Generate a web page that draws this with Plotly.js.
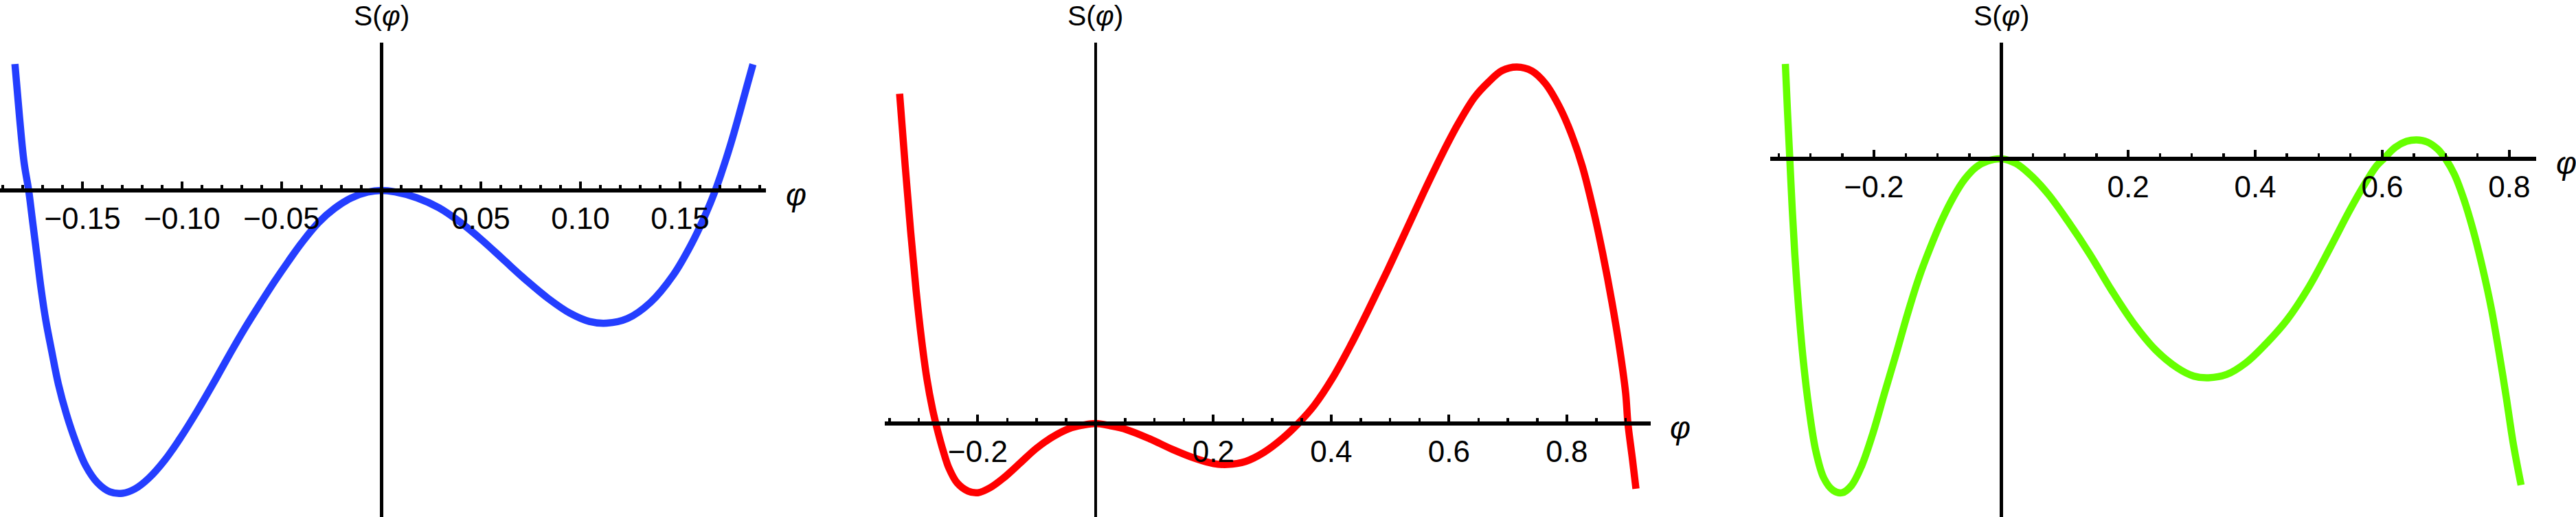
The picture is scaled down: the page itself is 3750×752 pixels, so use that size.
<!DOCTYPE html>
<html>
<head>
<meta charset="utf-8">
<script src="https://cdn.plot.ly/plotly-3.0.1.min.js"></script>
<style>
  html, body { margin: 0; padding: 0; background: #fff; }
  #gd { width: 3750px; height: 752px; }
</style>
</head>
<body>
<div id="gd"></div>
<script>
// panel 1 (blue)
let phi1 = [-0.1839, -0.1816, -0.1793, -0.1770, -0.1753, -0.1730, -0.1707, -0.1684, -0.1655, -0.1621,
  -0.1580, -0.1534, -0.1483, -0.1425, -0.1362, -0.1299, -0.1236, -0.1167, -0.1086, -0.1006,
  -0.0925, -0.0845, -0.0764, -0.0684, -0.0603, -0.0534, -0.0466, -0.0399, -0.0316, -0.0234,
  -0.0151, -0.0069, 0,
  0.0069, 0.0179, 0.0289, 0.0399, 0.0509, 0.0618, 0.0728, 0.0838, 0.0948, 0.1045,
  0.1132, 0.1236, 0.1351, 0.1466, 0.1557, 0.1626, 0.1677, 0.1730, 0.1764, 0.1800, 0.1833, 0.1866];
let s1 = [1.839, 1.067, 0.405, 0, -0.390, -0.919, -1.449, -1.890, -2.330, -2.817,
  -3.258, -3.655, -4.008, -4.251, -4.384, -4.405, -4.340, -4.185, -3.920, -3.589,
  -3.214, -2.817, -2.398, -2.000, -1.625, -1.316, -1.029, -0.760, -0.470, -0.260,
  -0.110, -0.025, 0,
  -0.022, -0.108, -0.252, -0.468, -0.731, -1.019, -1.307, -1.571, -1.787, -1.906,
  -1.930, -1.863, -1.630, -1.230, -0.780, -0.360, 0, 0.450, 0.770, 1.140, 1.490, 1.835];

// panel 2 (red)
let phi2 = [-0.3328, -0.3235, -0.3142, -0.3049, -0.2956, -0.2864, -0.2771, -0.2678, -0.2585, -0.2492,
  -0.2352, -0.2166, -0.1999, -0.1794, -0.1562, -0.1283, -0.1004, -0.0725, -0.0446, -0.0214, 0,
  0.0251, 0.0525, 0.0914, 0.1303, 0.1691, 0.2002, 0.2235, 0.2546, 0.2857, 0.3168,
  0.3440, 0.3712, 0.4023, 0.4335, 0.4645, 0.4956, 0.5268, 0.5578, 0.5889, 0.6161,
  0.6433, 0.6667, 0.6900, 0.7152, 0.7405, 0.7638, 0.7872, 0.8066, 0.8260, 0.8455,
  0.8610, 0.8766, 0.8902, 0.8999, 0.9038, 0.9116, 0.9174];
let s2 = [4.796, 3.765, 2.806, 1.942, 1.223, 0.647, 0.216, -0.120, -0.408, -0.647,
  -0.863, -0.983, -1.007, -0.935, -0.791, -0.576, -0.360, -0.192, -0.072, -0.024, 0,
  -0.034, -0.089, -0.221, -0.376, -0.508, -0.583, -0.596, -0.552, -0.420, -0.221,
  0, 0.264, 0.662, 1.147, 1.676, 2.228, 2.802, 3.376, 3.927, 4.368,
  4.744, 4.964, 5.132, 5.185, 5.128, 4.942, 4.611, 4.236, 3.751, 3.089,
  2.471, 1.765, 1.059, 0.441, 0, -0.530, -0.949];

// panel 3 (green)
let phi3 = [-0.3395, -0.3362, -0.3325, -0.3290, -0.3247, -0.3186, -0.3114, -0.3024, -0.2916, -0.2789,
  -0.2645, -0.2501, -0.2357, -0.2195, -0.2014, -0.1835, -0.1654, -0.1474, -0.1294, -0.1114,
  -0.0933, -0.0754, -0.0573, -0.0392, -0.0213, 0,
  0.0233, 0.0491, 0.0750, 0.1051, 0.1396, 0.1741, 0.2086, 0.2430, 0.2775, 0.3034,
  0.3266, 0.3551, 0.3852, 0.4154, 0.4499, 0.4844, 0.5188, 0.5481, 0.5697, 0.5914,
  0.6022, 0.6202, 0.6382, 0.6544, 0.6706, 0.6868, 0.6995, 0.7138, 0.7283, 0.7427,
  0.7571, 0.7716, 0.7841, 0.7949, 0.8057, 0.8185];
let s3 = [1.380, 0.700, 0, -0.673, -1.379, -2.174, -2.924, -3.630, -4.248, -4.645,
  -4.821, -4.857, -4.755, -4.468, -3.983, -3.409, -2.845, -2.262, -1.732, -1.291,
  -0.894, -0.563, -0.298, -0.121, -0.033, 0,
  -0.067, -0.259, -0.523, -0.906, -1.386, -1.914, -2.393, -2.777, -3.041, -3.161,
  -3.185, -3.137, -2.969, -2.705, -2.345, -1.866, -1.280, -0.761, -0.408, -0.099,
  0, 0.165, 0.254, 0.276, 0.245, 0.143, 0, -0.232, -0.585, -1.026,
  -1.556, -2.174, -2.835, -3.453, -4.115, -4.745];

let ticks1 = [-0.15, -0.1, -0.05, 0.05, 0.1, 0.15];
let labels1 = ['\u22120.15', '\u22120.10', '\u22120.05', '0.05', '0.10', '0.15'];
let ticks23 = [-0.2, 0.2, 0.4, 0.6, 0.8];
let labels23 = ['\u22120.2', '0.2', '0.4', '0.6', '0.8'];

let font = 'Liberation Sans, Arial, sans-serif';

function curve(x, y, color, xa, ya) {
  return {
    x: x, y: y, xaxis: xa, yaxis: ya,
    mode: 'lines',
    line: { color: color, width: 10.5, shape: 'spline', smoothing: 1 },
    hoverinfo: 'skip'
  };
}

function xax(domain, range, pos, vals, text, minorStep) {
  return {
    domain: domain, range: range, anchor: 'free', position: pos,
    showgrid: false, zeroline: false,
    showline: true, linecolor: 'black', linewidth: 6,
    tickmode: 'array', tickvals: vals, ticktext: text,
    ticks: 'inside', ticklen: 10, tickwidth: 4, tickcolor: 'black',
    minor: { tickmode: 'linear', tick0: 0, dtick: minorStep, ticks: 'inside', ticklen: 5, tickwidth: 3.5, tickcolor: 'black', showgrid: false },
    tickfont: { family: font, size: 44, color: 'black' },
    fixedrange: true
  };
}

function yax(range, pos) {
  return {
    domain: [0, 0.91755], range: range, anchor: 'free', position: pos,
    showgrid: false, zeroline: false,
    showline: true, linecolor: 'black', linewidth: 4.5,
    ticks: '', showticklabels: false,
    fixedrange: true
  };
}

function label(text, x, y, size) {
  return {
    text: text, xref: 'paper', yref: 'paper', x: x, y: y,
    xanchor: 'center', yanchor: 'middle', showarrow: false,
    font: { family: font, size: size, color: 'black' }
  };
}

let data = [
  curve(phi1, s1, 'rgb(36, 62, 255)', 'x', 'y'),
  curve(phi2, s2, 'rgb(255, 0, 0)', 'x2', 'y2'),
  curve(phi3, s3, 'rgb(102, 255, 0)', 'x3', 'y3')
];

let layout = {
  width: 3750, height: 752,
  margin: { l: 0, r: 0, t: 0, b: 0 },
  paper_bgcolor: 'white', plot_bgcolor: 'white',
  showlegend: false,
  xaxis: xax([0, 0.29733], [-0.1914, 0.1931], 0.6316, ticks1, labels1, 0.01),
  yaxis: yax([-4.75, 2.15], 0.148),
  xaxis2: xax([0.34347, 0.64093], [-0.358, 0.943], 0.18085, ticks23, labels23, 0.05),
  yaxis2: yax([-1.36, 5.54], 0.42533),
  xaxis3: xax([0.68728, 0.98448], [-0.363, 0.842], 0.69282, ticks23, labels23, 0.05),
  yaxis3: yax([-5.21, 1.69], 0.7768),
  annotations: [
    label('S(<i>φ</i>)', 0.148, 0.9694, 41),
    label('S(<i>φ</i>)', 0.42533, 0.9694, 41),
    label('S(<i>φ</i>)', 0.7768, 0.9694, 41),
    label('<i>φ</i>', 1159 / 3750, 1 - 283 / 752, 46),
    label('<i>φ</i>', 2446 / 3750, 1 - 622 / 752, 46),
    label('<i>φ</i>', 3736 / 3750, 1 - 237 / 752, 46)
  ]
};

Plotly.newPlot('gd', data, layout, { staticPlot: true });
</script>
</body>
</html>
